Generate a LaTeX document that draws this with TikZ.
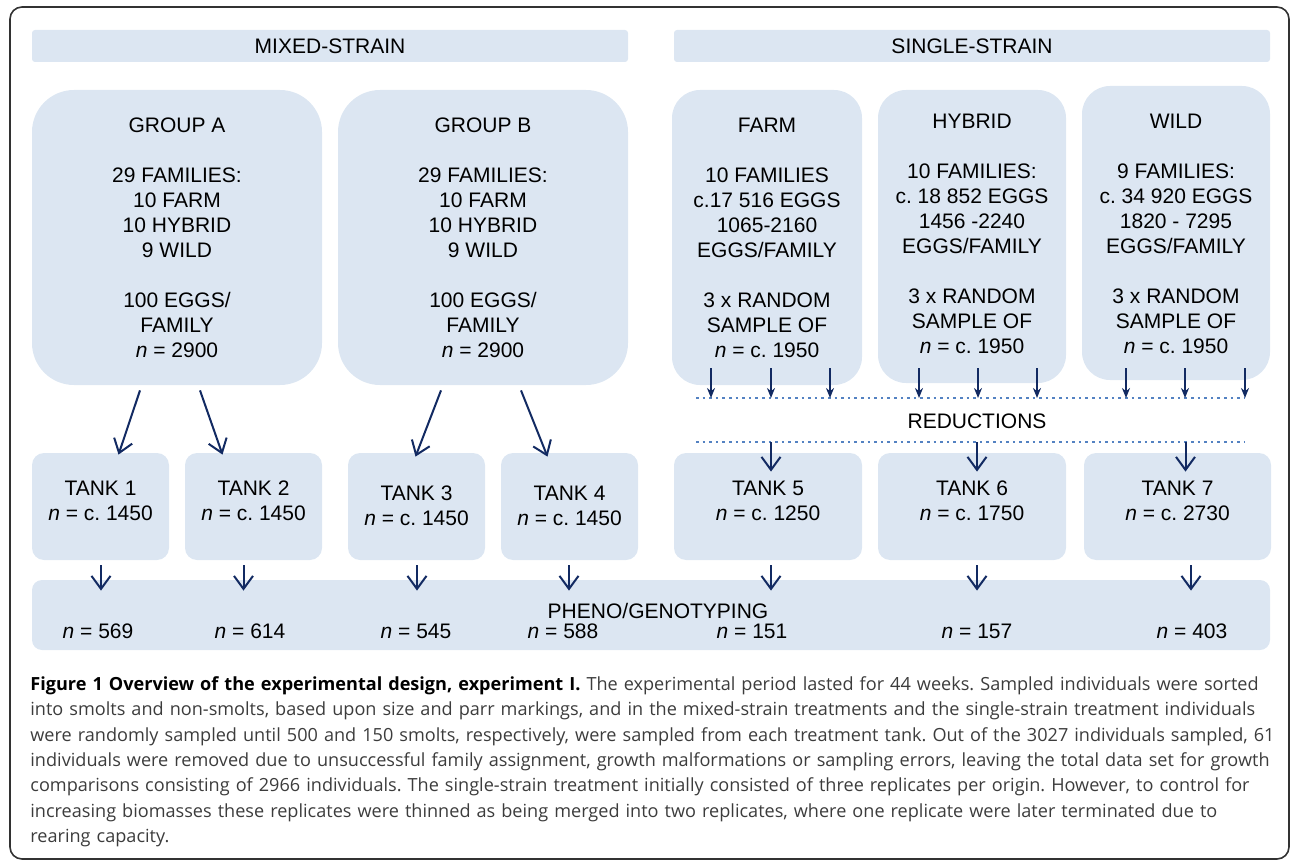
\documentclass[tikz,border=0pt]{standalone}
\usepackage{fontspec}
\setmainfont{Liberation Sans}
\newfontfamily\capfont{Open Sans}
\usetikzlibrary{arrows.meta}

\definecolor{boxblue}{RGB}{220,230,242}
\definecolor{navy}{RGB}{18,42,98}
\definecolor{dotblue}{RGB}{84,130,194}
\definecolor{framegray}{RGB}{50,50,50}
\definecolor{captext}{RGB}{60,60,60}

\tikzset{
  box/.style={fill=boxblue, draw=none, inner sep=0pt},
  hdr/.style={box, rounded corners=1.5pt, minimum width=298pt, minimum height=16pt},
  grp/.style={box, rounded corners=21pt, minimum width=145pt, minimum height=147.5pt},
  strain/.style={box, rounded corners=14pt, minimum width=94pt, minimum height=147pt},
  tank/.style={box, rounded corners=6pt, minimum width=68.5pt, minimum height=53.5pt},
  txt/.style={align=center, inner sep=0pt, font=\fontsize{10.5}{12.5}\selectfont},
  arr/.style={navy, line width=1pt, -{Straight Barb[length=6.5pt,width=9.5pt]}},
  smallarr/.style={navy, line width=1pt, -{Stealth[length=5pt,width=4pt]}},
  redline/.style={dotblue, line width=1.3pt, dotted}
}

\begin{document}
\frenchspacing
\begin{tikzpicture}[x=0.5pt, y=-0.5pt]
\useasboundingbox (0,0) rectangle (1290,861);
\draw[framegray, line width=0.8pt, rounded corners=6pt] (10,7) rectangle (1289,859);

% headers
\node[hdr, txt] (mixed) at (330,46) {MIXED-STRAIN};
\node[hdr, txt] (single) at (972,46) {SINGLE-STRAIN};

% egg groups
\node[grp] (grpA) at (177,237.5) {};
\node[grp] (grpB) at (483,237.5) {};
\node[strain, minimum width=95pt, minimum height=147.5pt] (farm) at (767,237.5) {};
\node[strain, minimum height=146.5pt] (hybrid) at (972,236.5) {};
\node[strain] (wild) at (1176,233) {};

\node[txt] (grpAtxt) at (grpA.center)
  {GROUP A\\[12.5pt]29 FAMILIES:\\10 FARM\\10 HYBRID\\9 WILD\\[12.5pt]100 EGGS/\\FAMILY\\\textit{n} = 2900};
\node[txt] (grpBtxt) at (grpB.center)
  {GROUP B\\[12.5pt]29 FAMILIES:\\10 FARM\\10 HYBRID\\9 WILD\\[12.5pt]100 EGGS/\\FAMILY\\\textit{n} = 2900};
\node[txt] (farmtxt) at (farm.center)
  {FARM\\[12.5pt]10 FAMILIES\\c.17 516 EGGS\\1065-2160\\EGGS/FAMILY\\[12.5pt]3 x RANDOM\\SAMPLE OF\\\textit{n} = c. 1950};
\node[txt] (hybridtxt) at ([yshift=1.5pt]hybrid.center)
  {HYBRID\\[12.5pt]10 FAMILIES:\\c. 18 852 EGGS\\1456 -2240\\EGGS/FAMILY\\[12.5pt]3 x RANDOM\\SAMPLE OF\\\textit{n} = c. 1950};
\node[txt] (wildtxt) at ([yshift=-0.5pt]wild.center)
  {WILD\\[12.5pt]9 FAMILIES:\\c. 34 920 EGGS\\1820 - 7295\\EGGS/FAMILY\\[12.5pt]3 x RANDOM\\SAMPLE OF\\\textit{n} = c. 1950};

% reductions
\coordinate (redTL) at (696,398);
\coordinate (redTR) at (1244,398);
\coordinate (redBL) at (696,442);
\coordinate (redBR) at (1244,442);
\coordinate (relTop) at (696,368);
\draw[redline] (redTL) -- (redTR);
\draw[redline] (redBL) -- (redBR);
\node[txt] (reduct) at (977,421) {REDUCTIONS};

\foreach \bx/\dx in {farm/-28,farm/2,farm/31.5,hybrid/-26.5,hybrid/3,hybrid/32.5,wild/-25,wild/4.5,wild/34.5}{
  \path ([xshift=\dx pt]\bx.south) coordinate (a);
  \draw[smallarr] (a |- relTop) -- (a |- redTL);
}

% tanks
\node[tank] (tank1) at (100.5,506.5) {};
\node[tank] (tank2) at (253.5,506.5) {};
\node[tank] (tank3) at (416.5,506.5) {};
\node[tank] (tank4) at (569.5,506.5) {};
\node[tank, minimum width=94pt] (tank5) at (768,506.5) {};
\node[tank, minimum width=94pt] (tank6) at (972,506.5) {};
\node[tank, minimum width=93.5pt] (tank7) at (1177.5,506.5) {};

\node[txt] (tank1txt) at ([yshift=3pt]tank1.center) {TANK 1\\\textit{n} = c. 1450};
\node[txt] (tank2txt) at ([yshift=3pt]tank2.center) {TANK 2\\\textit{n} = c. 1450};
\node[txt] (tank3txt) at ([yshift=0.5pt]tank3.center) {TANK 3\\\textit{n} = c. 1450};
\node[txt] (tank4txt) at ([yshift=0.5pt]tank4.center) {TANK 4\\\textit{n} = c. 1450};
\node[txt] (tank5txt) at ([yshift=3pt]tank5.center) {TANK 5\\\textit{n} = c. 1250};
\node[txt] (tank6txt) at ([yshift=3pt]tank6.center) {TANK 6\\\textit{n} = c. 1750};
\node[txt] (tank7txt) at ([yshift=3pt]tank7.center) {TANK 7\\\textit{n} = c. 2730};

% groups to tanks
\draw[arr] ([xshift=-18.5pt,yshift=-2.5pt]grpA.south) -- ([xshift=9pt,yshift=-1pt]tank1.north);
\draw[arr] ([xshift=11.5pt,yshift=-2.5pt]grpA.south) -- ([xshift=-15.5pt,yshift=-1pt]tank2.north);
\draw[arr] ([xshift=-21pt,yshift=-2.5pt]grpB.south) -- ([xshift=-0.5pt,yshift=-2pt]tank3.north);
\draw[arr] ([xshift=19pt,yshift=-2.5pt]grpB.south) -- ([xshift=-11pt,yshift=-2pt]tank4.north);

% reductions to tanks
\foreach \t/\dx in {tank5/1.5,tank6/2.5,tank7/4}{
  \path ([xshift=\dx pt]\t.north) coordinate (b);
  \draw[arr] (b |- redBL) -- ([yshift=-9.5pt]b);
}

% pheno/genotyping
\node[box, rounded corners=5pt, minimum width=619pt, minimum height=35pt] (pheno) at (651,615) {};
\node[txt] (phenotxt) at ([xshift=3.5pt,yshift=2pt]pheno.center) {PHENO/GENOTYPING};
\coordinate (phTop) at ([yshift=-5.5pt]pheno.north);

\foreach \t/\dx in {tank1/0.25,tank2/-5,tank3/0.25,tank4/-0.25,tank5/1.5,tank6/2.5,tank7/6.75}{
  \path ([xshift=\dx pt]\t.south) coordinate (c);
  \draw[arr] ([yshift=-2.5pt]c) -- (c |- phTop);
}

\foreach \x/\v [count=\i] in {98/569,250/614,416/545,563/588,752/151,977/157,1192/403}
  \node[txt] (cnt\i) at (\x,631) {\textit{n} = \v};

% caption
\node[anchor=north west, inner sep=0pt, align=left, text width=640pt, text=captext,
      font=\capfont\fontsize{9.05}{12.7}\selectfont] (caption) at (30,676)
 {\textcolor{black}{\textbf{Figure 1 Overview of the experimental design, experiment I.}} The experimental period lasted for 44 weeks. Sampled individuals were sorted\\
 into smolts and non-smolts, based upon size and parr markings, and in the mixed-strain treatments and the single-strain treatment individuals\\
 were randomly sampled until 500 and 150 smolts, respectively, were sampled from each treatment tank. Out of the 3027 individuals sampled, 61\\
 individuals were removed due to unsuccessful family assignment, growth malformations or sampling errors, leaving the total data set for growth\\
 comparisons consisting of 2966 individuals. The single-strain treatment initially consisted of three replicates per origin. However, to control for\\
 increasing biomasses these replicates were thinned as being merged into two replicates, where one replicate were later terminated due to\\
 rearing capacity.};
\end{tikzpicture}
\end{document}
